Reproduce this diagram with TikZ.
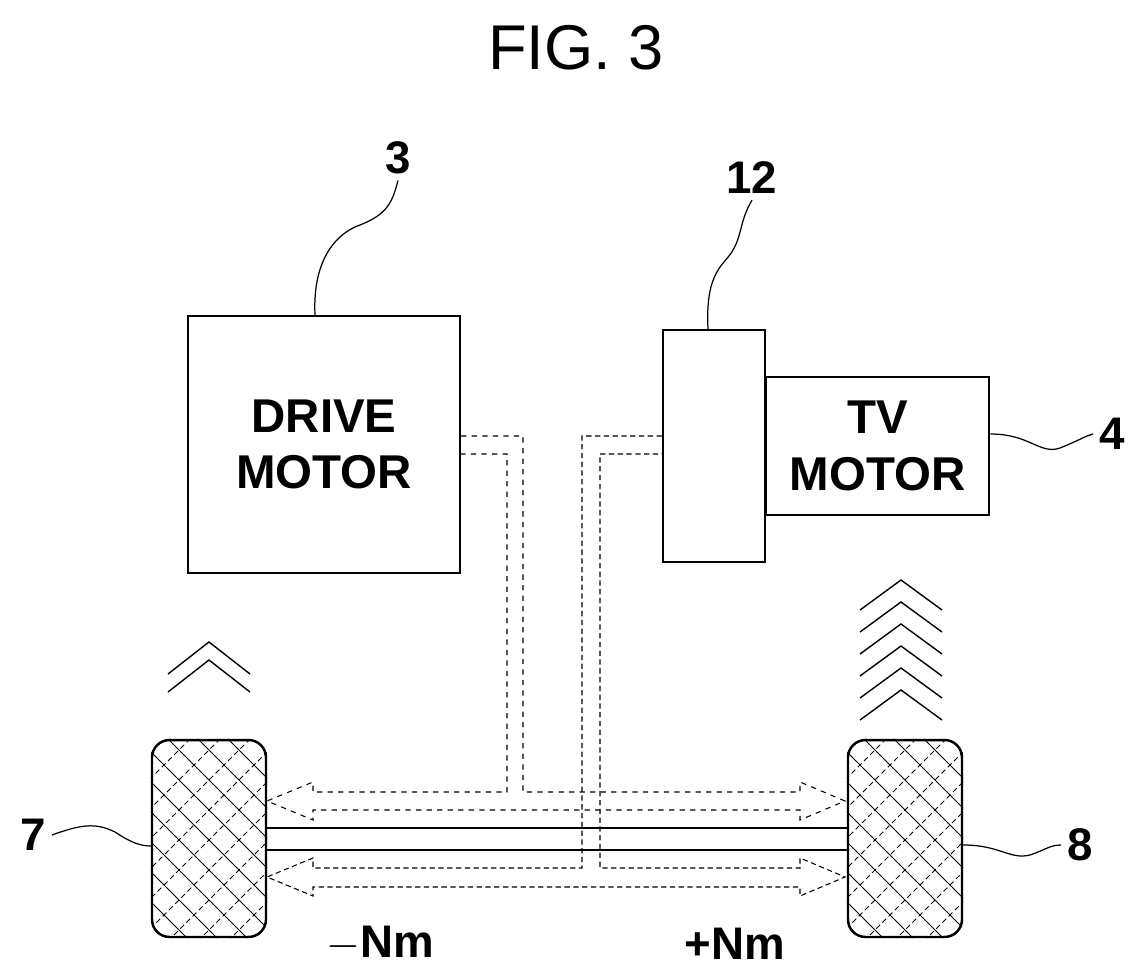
\documentclass[tikz,border=0pt]{standalone}
\usepackage{fontspec}
\setmainfont{Liberation Sans}
\begin{document}
\begin{tikzpicture}[x=0.02cm,y=-0.02cm,
  box/.style={draw, line width=1.4pt, font=\fontsize{27}{30}\selectfont\bfseries, align=center, inner sep=0pt},
  lbl/.style={font=\fontsize{26}{28}\selectfont\bfseries},
  lead/.style={line width=0.7pt},
  flow/.style={line width=0.6pt}]
\useasboundingbox (0,0) rectangle (1147,980);
% title
\node[font=\fontsize{36}{40}\selectfont] (title) at (576,48) {FIG. 3};
% boxes
\node[box, minimum width=5.44cm, minimum height=5.14cm] (drive) at (324,444.5) {DRIVE\\[2pt]MOTOR};
\node[box, minimum width=2.04cm, minimum height=4.64cm] (unit) at (714,446) {};
\node[box, minimum width=4.46cm, minimum height=2.76cm, anchor=west] (tv) at (765,446) {TV\\[2pt]MOTOR};
% wheels
\foreach \n/\x in {lwheel/209, rwheel/905}{
  \node[draw, line width=1.4pt, rounded corners=0.35cm, minimum width=2.28cm, minimum height=3.94cm, inner sep=0pt] (\n) at (\x,838.5) {};
  \begin{scope}
    \clip[rounded corners=0.35cm] (\n.south west) rectangle (\n.north east);
    \foreach \k in {-300,-270,...,300}{
      \draw[line width=0.5pt] (\x+\k-120,720) -- (\x+\k+120,960);
      \draw[line width=0.5pt, densely dashed] (\x+\k+120,720) -- (\x+\k-120,960);
    }
  \end{scope}
}
% axle
\draw[line width=1.6pt] (lwheel.east |- 0,828) -- (rwheel.west |- 0,828);
\draw[line width=1.6pt] (lwheel.east |- 0,850) -- (rwheel.west |- 0,850);
% torque path of drive motor
\draw[flow, dashed] (drive.east |- 0,436) -- (523,436) -- (523,792) -- (800,792) -- (800,782)
  -- (845,801) -- (800,820) -- (800,810) -- (313,810) -- (313,820) -- (267,801) -- (313,782)
  -- (313,792) -- (507,792) -- (507,454) -- (drive.east |- 0,454);
% torque path of TV motor
\draw[flow, densely dashed] (unit.west |- 0,436) -- (582,436) -- (582,868) -- (313,868) -- (313,858)
  -- (267,877) -- (313,896) -- (313,887) -- (800,887) -- (800,896) -- (845,877) -- (800,858)
  -- (800,868) -- (600,868) -- (600,454) -- (unit.west |- 0,454);
% chevrons
\foreach \y in {660}{
  \draw[line width=0.8pt] (168,\y+32) -- (209,\y) -- (250,\y+32);
  \draw[line width=0.8pt] (168,\y+14) -- (209,\y-18) -- (250,\y+14);
}
\foreach \y in {580,602,...,690}{
  \draw[line width=0.8pt] (860,\y+30) -- (901,\y) -- (942,\y+30);
}
% labels
\node[lbl] (n3) at (398,158) {3};
\node[lbl] (n12) at (752,178) {12};
\node[lbl] (n4) at (1112,434) {4};
\node[lbl] (n7) at (33,835) {7};
\node[lbl] (n8) at (1080,845) {8};
\draw[lead] (drive.north -| 315,0) .. controls (312,250) and (345,230) .. (360,225) .. controls (385,215) and (392,205) .. (n3.south);
\draw[lead] (unit.north -| 708,0) .. controls (705,270) and (725,265) .. (733,250) .. controls (742,235) and (740,220) .. (n12.south);
\draw[lead] (tv.east |- 0,434) .. controls (1030,434) and (1040,455) .. (1060,448) .. controls (1080,440) and (1085,436) .. (n4.west);
\draw[lead] (n7.east) .. controls (80,825) and (95,822) .. (115,832) .. controls (130,842) and (140,846) .. (lwheel.west |- 0,846);
\draw[lead] (rwheel.east |- 0,845) .. controls (1000,845) and (1010,860) .. (1030,855) .. controls (1045,850) and (1050,845) .. (n8.west);
% torque labels
\node[lbl] (neg) at (380,944) {$-$Nm};
\node[lbl] (pos) at (735,944) {+Nm};
\end{tikzpicture}
\end{document}
